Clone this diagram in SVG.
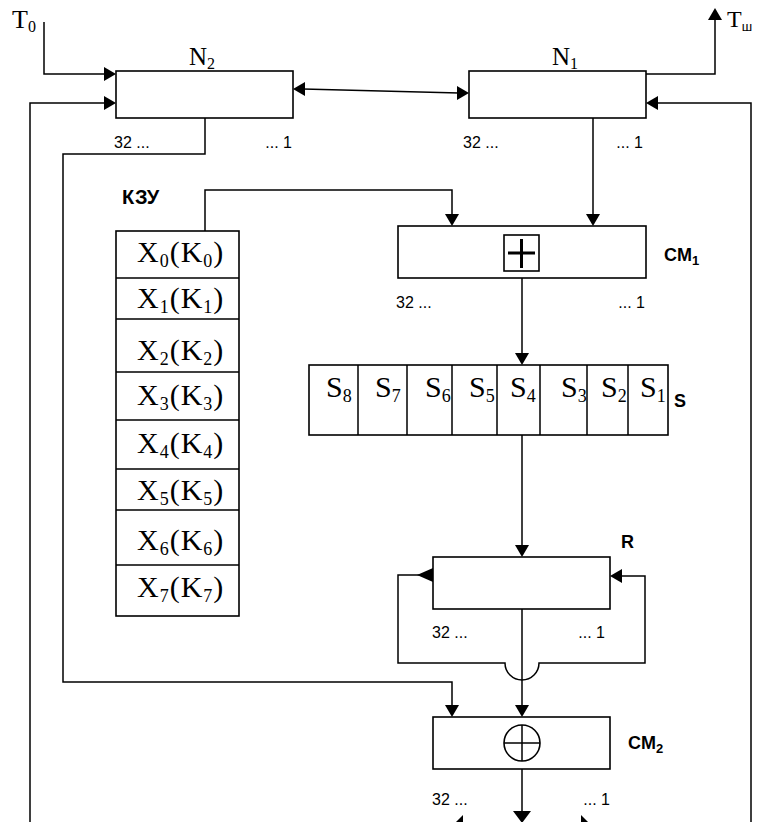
<svg xmlns="http://www.w3.org/2000/svg" width="757" height="822" viewBox="0 0 757 822">
<style>
.box{fill:none;stroke:#000;stroke-width:1.6}
.ln{fill:none;stroke:#000;stroke-width:1.5}
.ah{fill:#000;stroke:none}
.serif{font-family:"Liberation Serif","Times New Roman",serif;fill:#000}
.bits{font-family:"Liberation Sans",Arial,sans-serif;font-size:16px;fill:#000}
.lbl{font-family:"Liberation Sans",Arial,sans-serif;font-size:18px;font-weight:bold;fill:#000}
.xk{font-family:"Liberation Serif","Times New Roman",serif;font-size:30px;fill:#000;letter-spacing:1px}
.sk{font-family:"Liberation Serif","Times New Roman",serif;font-size:30px;fill:#000}
</style>
<rect width="757" height="822" fill="#fff"/>

<g id="connectors">
  <path class="ln" d="M44,22 V74 H106"/>
  <polygon class="ah" points="116,74 104,67 104,81"/>
  <path class="ln" d="M30,822 V103 H106"/>
  <polygon class="ah" points="116,103 104,96 104,110"/>
  <path class="ln" d="M303,89 L459,93"/>
  <polygon class="ah" points="293,89 305,82 305,96"/>
  <polygon class="ah" points="469,93 457,86 457,100"/>
  <path class="ln" d="M646,74 H715 V18"/>
  <polygon class="ah" points="715,8 708,20 722,20"/>
  <path class="ln" d="M751,822 V103 H656"/>
  <polygon class="ah" points="646,103 658,96 658,110"/>
  <path class="ln" d="M205,118 V154 H63 V682 H452 V706"/>
  <polygon class="ah" points="452,717 445,705 459,705"/>
  <path class="ln" d="M593,118 V216"/>
  <polygon class="ah" points="593,226 586,214 600,214"/>
  <path class="ln" d="M205,231 V190 H452 V216"/>
  <polygon class="ah" points="452,226 445,214 459,214"/>
  <path class="ln" d="M522,278 V355"/>
  <polygon class="ah" points="522,365 515,353 529,353"/>
  <path class="ln" d="M522,435 V547"/>
  <polygon class="ah" points="522,557 515,545 529,545"/>
  <path class="ln" d="M422,575 H398 V663 H505 A17,17 0 0 0 539,663 H645 V576 H620"/>
  <polygon class="ah" points="417,575 433,568 433,582"/>
  <polygon class="ah" points="610,576 622,569 622,583"/>
  <path class="ln" d="M522,609 V706"/>
  <polygon class="ah" points="522,717 515,705 529,705"/>
  <path class="ln" d="M522,769 V812"/>
  <polygon class="ah" points="522,823 513,811 531,811"/>
  <polygon class="ah" points="463,815 463,839 451,827"/>
  <polygon class="ah" points="581,815 581,839 593,827"/>
</g>

<g id="T0"><text class="serif" x="12" y="28" font-size="26">T<tspan font-size="16" dy="4">0</tspan></text></g>
<g id="Tsh"><text class="serif" x="727" y="27" font-size="24">T<tspan font-size="13" dy="4" font-family="Liberation Sans, sans-serif">ш</tspan></text></g>

<g id="N2">
  <rect class="box" x="116" y="71" width="177" height="47"/>
  <text class="serif" x="189" y="65" font-size="25">N<tspan font-size="16" dy="4">2</tspan></text>
  <text class="bits" x="114" y="148">32 ...</text>
  <text class="bits" x="292" y="148" text-anchor="end">... 1</text>
</g>

<g id="N1">
  <rect class="box" x="469" y="71" width="177" height="47"/>
  <text class="serif" x="552" y="65" font-size="25">N<tspan font-size="16" dy="4">1</tspan></text>
  <text class="bits" x="463" y="148">32 ...</text>
  <text class="bits" x="643" y="148" text-anchor="end">... 1</text>
</g>

<g id="KZU">
  <text class="lbl" x="122" y="204" style="font-size:20px">КЗУ</text>
  <rect class="box" x="116" y="231" width="123" height="385"/>
  <path class="ln" d="M116,278 H239 M116,319 H239 M116,372 H239 M116,420 H239 M116,469 H239 M116,510 H239 M116,565 H239"/>
  <text class="xk" x="137" y="262">X<tspan font-size="18" dy="5">0</tspan><tspan dy="-5">(K</tspan><tspan font-size="18" dy="5">0</tspan><tspan dy="-5">)</tspan></text>
  <text class="xk" x="137" y="308">X<tspan font-size="18" dy="5">1</tspan><tspan dy="-5">(K</tspan><tspan font-size="18" dy="5">1</tspan><tspan dy="-5">)</tspan></text>
  <text class="xk" x="137" y="360">X<tspan font-size="18" dy="5">2</tspan><tspan dy="-5">(K</tspan><tspan font-size="18" dy="5">2</tspan><tspan dy="-5">)</tspan></text>
  <text class="xk" x="137" y="405">X<tspan font-size="18" dy="5">3</tspan><tspan dy="-5">(K</tspan><tspan font-size="18" dy="5">3</tspan><tspan dy="-5">)</tspan></text>
  <text class="xk" x="137" y="453">X<tspan font-size="18" dy="5">4</tspan><tspan dy="-5">(K</tspan><tspan font-size="18" dy="5">4</tspan><tspan dy="-5">)</tspan></text>
  <text class="xk" x="137" y="500">X<tspan font-size="18" dy="5">5</tspan><tspan dy="-5">(K</tspan><tspan font-size="18" dy="5">5</tspan><tspan dy="-5">)</tspan></text>
  <text class="xk" x="137" y="550">X<tspan font-size="18" dy="5">6</tspan><tspan dy="-5">(K</tspan><tspan font-size="18" dy="5">6</tspan><tspan dy="-5">)</tspan></text>
  <text class="xk" x="137" y="597">X<tspan font-size="18" dy="5">7</tspan><tspan dy="-5">(K</tspan><tspan font-size="18" dy="5">7</tspan><tspan dy="-5">)</tspan></text>
</g>

<g id="CM1">
  <rect class="box" x="398" y="226" width="248" height="52"/>
  <rect class="box" x="504" y="235" width="35" height="36"/>
  <path d="M508,253 H535 M521.5,239 V268" stroke="#000" stroke-width="3" fill="none"/>
  <text class="lbl" x="664" y="261">CM<tspan font-size="13" dy="4">1</tspan></text>
  <text class="bits" x="396" y="308">32 ...</text>
  <text class="bits" x="645" y="308" text-anchor="end">... 1</text>
</g>

<g id="S">
  <rect class="box" x="309" y="365" width="359" height="70"/>
  <path class="ln" d="M358,365 V435 M407,365 V435 M452,365 V435 M497,365 V435 M540,365 V435 M587,365 V435 M628,365 V435"/>
  <text class="sk" x="326" y="397">S<tspan font-size="18" dy="5">8</tspan></text>
  <text class="sk" x="375" y="397">S<tspan font-size="18" dy="5">7</tspan></text>
  <text class="sk" x="425" y="397">S<tspan font-size="18" dy="5">6</tspan></text>
  <text class="sk" x="469" y="397">S<tspan font-size="18" dy="5">5</tspan></text>
  <text class="sk" x="510" y="397">S<tspan font-size="18" dy="5">4</tspan></text>
  <text class="sk" x="561" y="397">S<tspan font-size="18" dy="5">3</tspan></text>
  <text class="sk" x="601" y="397">S<tspan font-size="18" dy="5">2</tspan></text>
  <text class="sk" x="640" y="397">S<tspan font-size="18" dy="5">1</tspan></text>
  <text class="lbl" x="674" y="407">S</text>
</g>

<g id="R">
  <rect class="box" x="433" y="557" width="177" height="52"/>
  <text class="lbl" x="621" y="548">R</text>
  <text class="bits" x="432" y="638">32 ...</text>
  <text class="bits" x="605" y="638" text-anchor="end">... 1</text>
</g>

<g id="CM2">
  <rect class="box" x="433" y="717" width="177" height="52"/>
  <circle class="box" cx="522" cy="743" r="18"/>
  <path class="ln" d="M504,743 H540 M522,725 V761"/>
  <text class="lbl" x="628" y="749">CM<tspan font-size="13" dy="4">2</tspan></text>
  <text class="bits" x="432" y="805">32 ...</text>
  <text class="bits" x="610" y="805" text-anchor="end">... 1</text>
</g>
</svg>
